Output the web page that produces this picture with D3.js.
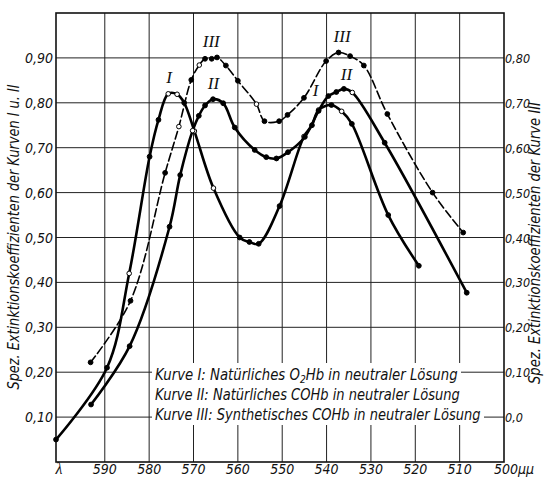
<!DOCTYPE html>
<html>
<head>
<meta charset="utf-8">
<script src="https://cdn.jsdelivr.net/npm/d3@7"></script>
<style>
  body { margin: 0; background: #fff; }
  svg { display: block; }
  .grid line { stroke: #222; stroke-width: 1; }
  .lbl { font-family: "DejaVu Sans Condensed", "Liberation Sans Narrow", sans-serif; font-style: italic; fill: #111; }
  .roman { font-family: "Liberation Serif", "DejaVu Serif", serif; font-style: italic; fill: #111; }
</style>
</head>
<body>
<svg id="chart" width="546" height="479"></svg>
<script>
"use strict";

// wavelengths (mu-mu) and extinction values
var waveI = [601, 589.5, 584.5, 579.9, 577.9, 575.7, 573.7, 572.1, 569.8, 565.5, 559.6, 557.4, 555.3,
  550.6, 545.1, 543.3, 541.8, 538.9, 536.6, 534.3, 526.1, 519.2];
var valI = [0.05, 0.21, 0.42, 0.68, 0.762, 0.82, 0.819, 0.80, 0.737, 0.61, 0.50, 0.49, 0.486,
  0.57, 0.725, 0.75, 0.784, 0.795, 0.781, 0.753, 0.55, 0.437];
var openI = [0, 0, 1, 0, 0, 1, 1, 0, 1, 1, 0, 0, 0, 0, 1, 0, 1, 0, 1, 0, 0, 0];

var waveII = [593.1, 584.4, 575.4, 573.0, 570.2, 568.8, 567.4, 565.6, 563.3, 560.7, 556.2, 553.6, 551.3,
  548.7, 544.9, 541.8, 539.6, 537.8, 536.1, 534.2, 526.9, 508.4];
var valII = [0.128, 0.258, 0.524, 0.639, 0.738, 0.771, 0.794, 0.808, 0.799, 0.745, 0.695, 0.679, 0.676,
  0.69, 0.724, 0.782, 0.815, 0.824, 0.831, 0.823, 0.711, 0.377];
var openII = [0, 0, 0, 0, 1, 0, 0, 0, 0, 0, 0, 0, 0, 0, 0, 0, 0, 0, 0, 1, 0, 0];

// curve III is read on the right hand axis
var waveIII = [593.2, 584.2, 576.4, 573.3, 570.5, 568.7, 567.4, 565.9, 564.7, 562.7, 560.0, 555.8, 554.0,
  550.7, 548.8, 545.1, 540.1, 537.3, 534.7, 531.6, 526.3, 516.1, 509.2];
var valIII = [0.122, 0.259, 0.544, 0.647, 0.751, 0.784, 0.798, 0.798, 0.801, 0.783, 0.749, 0.697, 0.659,
  0.659, 0.673, 0.711, 0.793, 0.812, 0.804, 0.783, 0.675, 0.50, 0.411];
var openIII = [0, 0, 0, 1, 0, 1, 0, 0, 0, 0, 0, 1, 0, 0, 0, 0, 0, 0, 0, 0, 0, 0, 0];

var xTicks = [590, 580, 570, 560, 550, 540, 530, 520, 510];
var yTicksLeft = [0.1, 0.2, 0.3, 0.4, 0.5, 0.6, 0.7, 0.8, 0.9];
var yTicksRight = [0.0, 0.1, 0.2, 0.3, 0.4, 0.5, 0.6, 0.7, 0.8];

var legendRows = [
  ['Kurve I: Natürliches O', '2', 'Hb in neutraler Lösung'],
  ['Kurve II: Natürliches COHb in neutraler Lösung'],
  ['Kurve III: Synthetisches COHb in neutraler Lösung']
];

var romanLabels = [
  { text: 'I', wave: 575.5, val: 0.845 },
  { text: 'III', wave: 566, val: 0.925 },
  { text: 'II', wave: 565.5, val: 0.83 },
  { text: 'I', wave: 542.5, val: 0.815 },
  { text: 'III', wave: 536.5, val: 0.935 },
  { text: 'II', wave: 535.5, val: 0.85 }
];

function fmt(v) {
  return v.toFixed(2).replace('.', ',').replace(/^0,00$/, '0,0');
}

// squeeze a text horizontally to a given width, anchored at its left edge
function _fit(t, x0, width) {
  var bb = t.node().getBBox();
  var k = width / bb.width;
  t.attr('transform', 'translate(' + x0 + ',0) scale(' + k + ',1) translate(' + (-x0) + ',0)');
  return k;
}

function _draw_plot(svg) {
  var frame = { left: 56, right: 504, top: 13, bottom: 462 };

  var X = d3.scaleLinear().domain([601, 500]).range([frame.left, frame.right]);
  var Y = d3.scaleLinear().domain([0, 1]).range([frame.bottom, frame.top]);
  var YR = d3.scaleLinear().domain([-0.1, 0.9]).range([frame.bottom, frame.top]);

  // grid
  var grid = svg.append('g').attr('class', 'grid');
  grid.selectAll('line.v').data(xTicks).enter().append('line')
    .attr('class', 'v')
    .attr('x1', d => X(d)).attr('x2', d => X(d))
    .attr('y1', frame.top).attr('y2', frame.bottom);
  grid.selectAll('line.h').data(yTicksLeft).enter().append('line')
    .attr('class', 'h')
    .attr('x1', frame.left).attr('x2', frame.right)
    .attr('y1', d => Y(d)).attr('y2', d => Y(d));

  // legend sits on white, hiding the grid behind it
  var legend = svg.append('g');
  var baselines = [380, 400, 420];
  var widths = [303, 305, 326];
  legendRows.forEach(function (row, i) {
    var g = legend.append('g');
    var bg = g.append('rect').attr('fill', '#fff');
    var t = g.append('text').attr('class', 'lbl')
      .attr('x', 155).attr('y', baselines[i])
      .style('font-size', '16px');
    t.append('tspan').text(row[0]);
    if (row.length > 1) {
      t.append('tspan').attr('dy', 3).style('font-size', '11px').text(row[1]);
      t.append('tspan').attr('dy', -3).text(row[2]);
    }
    var bb = t.node().getBBox();
    _fit(t, 155, widths[i]);
    bg.attr('x', 152).attr('y', bb.y - 2)
      .attr('width', widths[i] + 6).attr('height', bb.height + 3);
  });

  svg.append('rect')
    .attr('x', frame.left).attr('y', frame.top)
    .attr('width', frame.right - frame.left).attr('height', frame.bottom - frame.top)
    .attr('fill', 'none').attr('stroke', '#111').attr('stroke-width', 1.6);

  // curves
  var series = [
    { wave: waveI, val: valI, open: openI, scale: Y, dash: null, w: 2.6 },
    { wave: waveII, val: valII, open: openII, scale: Y, dash: null, w: 2.6 },
    { wave: waveIII, val: valIII, open: openIII, scale: YR, dash: '8,3.5', w: 1.6 }
  ];

  series.forEach(function (s) {
    var pts = s.wave.map(function (w, i) { return { w: w, v: s.val[i], o: s.open[i] }; });
    var line = d3.line()
      .x(d => X(d.w))
      .y(d => s.scale(d.v))
      .curve(d3.curveCatmullRom.alpha(0.5));
    svg.append('path')
      .datum(pts)
      .attr('d', line)
      .attr('fill', 'none')
      .attr('stroke', '#000')
      .attr('stroke-width', s.w)
      .attr('stroke-dasharray', s.dash)
      .attr('stroke-linecap', 'round');
    svg.append('g').selectAll('circle').data(pts).enter().append('circle')
      .attr('cx', d => X(d.w))
      .attr('cy', d => s.scale(d.v))
      .attr('r', d => d.o ? 2.3 : 2.4)
      .attr('fill', d => d.o ? '#fff' : '#000')
      .attr('stroke', '#000')
      .attr('stroke-width', 1);
  });

  svg.append('g').selectAll('text').data(romanLabels).enter().append('text')
    .attr('class', 'roman')
    .attr('x', d => X(d.wave)).attr('y', d => Y(d.val))
    .attr('text-anchor', 'middle')
    .style('font-size', '17px')
    .text(d => d.text);

  // left tick labels
  svg.append('g').selectAll('text').data(yTicksLeft).enter().append('text')
    .attr('class', 'lbl')
    .attr('x', frame.left - 3).attr('y', d => Y(d) + 5)
    .attr('text-anchor', 'end')
    .style('font-size', '14px')
    .text(fmt);

  // right tick labels
  svg.append('g').selectAll('text').data(yTicksRight).enter().append('text')
    .attr('class', 'lbl')
    .attr('x', frame.right + 1).attr('y', d => YR(d) + 5)
    .style('font-size', '12.5px')
    .text(fmt);

  // bottom labels
  var bottom = svg.append('g');
  bottom.selectAll('text').data(xTicks).enter().append('text')
    .attr('class', 'lbl')
    .attr('x', d => X(d)).attr('y', 474)
    .attr('text-anchor', 'middle')
    .style('font-size', '14px')
    .text(d => d);
  bottom.append('text').attr('class', 'lbl')
    .attr('x', X(500) - 10).attr('y', 474)
    .style('font-size', '14px')
    .text('500μμ');
  bottom.append('text').attr('class', 'roman')
    .attr('x', X(601) + 3).attr('y', 474)
    .attr('text-anchor', 'middle')
    .style('font-size', '16px')
    .text('λ');

  // axis titles
  svg.append('text').attr('class', 'lbl')
    .attr('transform', 'translate(19,237) rotate(-90)')
    .attr('text-anchor', 'middle')
    .attr('textLength', 305)
    .attr('lengthAdjust', 'spacingAndGlyphs')
    .style('font-size', '16px')
    .text('Spez. Extinktionskoeffizienten der Kurven I u. II');
  svg.append('text').attr('class', 'lbl')
    .attr('transform', 'translate(540,243) rotate(-90)')
    .attr('text-anchor', 'middle')
    .attr('textLength', 282)
    .attr('lengthAdjust', 'spacingAndGlyphs')
    .style('font-size', '16px')
    .text('Spez. Extinktionskoeffizienten der Kurve III');
}

_draw_plot(d3.select('#chart'));
</script>
</body>
</html>
